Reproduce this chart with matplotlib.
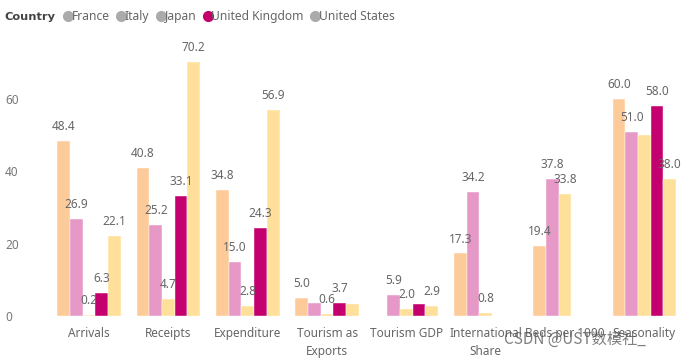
import matplotlib.pyplot as plt
import numpy as np
from matplotlib.lines import Line2D

plt.rcParams['font.family'] = ['Noto Sans', 'Noto Sans CJK SC', 'DejaVu Sans']

# 数据
categories = ['Arrivals', 'Receipts', 'Expenditure', 'Tourism as\nExports', 'Tourism GDP',
              'International\nShare', 'Beds per 1000', 'Seasonality']
countries = ['France', 'Italy', 'Japan', 'United Kingdom', 'United States']
nan = np.nan
france = [48.4, 40.8, 34.8, 5.0, nan, 17.3, 19.4, 60.0]
italy = [26.9, 25.2, 15.0, 3.5, 5.9, 34.2, 37.8, 51.0]
japan = [0.2, 4.7, 2.8, 0.6, 2.0, 0.8, 33.8, 50.0]
uk = [6.3, 33.1, 24.3, 3.7, 3.2, nan, nan, 58.0]
usa = [22.1, 70.2, 56.9, 3.2, 2.9, nan, nan, 38.0]
series = [france, italy, japan, uk, usa]
# 重叠被隐藏的数据标签 (类别序号, 国家序号)
hidden_labels = [(3, 1), (3, 4), (4, 3), (7, 2)]

colors = ['#FDCB99', '#E699C7', '#FFE09B', '#C4006E', '#FFE09B']
legend_colors = ['#ABABAB', '#ABABAB', '#ABABAB', '#C4006E', '#ABABAB']

fig = plt.figure(figsize=(6.92, 3.6), dpi=100)
ax = fig.add_axes([0.0715, 0.122, 0.917, 0.767])

x = np.arange(len(categories))
w = 0.16
for i, vals in enumerate(series):
    pos = x + (i - 2) * w
    ax.bar(pos, vals, width=w, color=colors[i], edgecolor='white', linewidth=0.3)
    for j, v in enumerate(vals):
        if np.isnan(v) or (j, i) in hidden_labels:
            continue
        ax.text(pos[j], v + 2.2, f'{v:.1f}', ha='center', va='bottom',
                fontsize=8.5, color='#666666')

ax.set_xlim(-0.5, len(categories) - 0.5)
ax.set_ylim(0, 76.3)
ax.set_yticks([0, 20, 40, 60])
ax.set_xticks(x)
ax.set_xticklabels(categories, fontsize=8.5, color='#666666', linespacing=1.5)
ax.tick_params(axis='y', labelsize=8.5, labelcolor='#777777', length=0, pad=32)
ax.tick_params(axis='x', length=0, pad=8)
for s in ax.spines.values():
    s.set_visible(False)
for t in ax.get_yticklabels():
    t.set_horizontalalignment('left')

# 图例
fig.text(0.007, 0.953, 'Country', fontsize=8.2, fontweight='bold', color='#444444', va='center',
         family='DejaVu Sans')
handles = [Line2D([], [], marker='o', linestyle='', markersize=7, color=c) for c in legend_colors]
fig.legend(handles, countries, loc='center left', bbox_to_anchor=(0.088, 0.953), ncol=5,
           frameon=False, fontsize=8.7, handletextpad=-0.3, columnspacing=0.35,
           borderaxespad=0, borderpad=0, labelcolor='#666666', handlelength=1.2)

# 水印
fig.text(0.728, 0.045, 'CSDN @UST数模社_', fontsize=11, color='#555555', alpha=0.75,
         family=['Noto Sans CJK SC', 'DejaVu Sans'])

plt.savefig('out.png')
